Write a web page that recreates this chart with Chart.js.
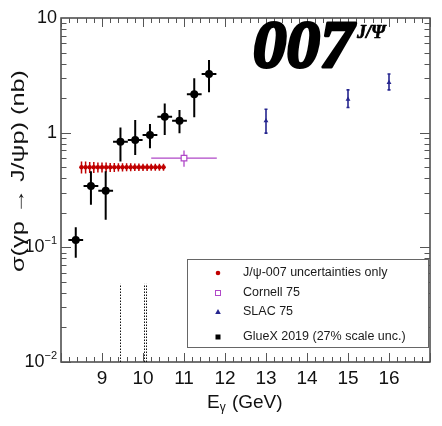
<!DOCTYPE html>
<html><head><meta charset="utf-8">
<script src="https://cdn.jsdelivr.net/npm/chart.js@4.4.1/dist/chart.umd.min.js"></script>
<style>html,body{margin:0;padding:0;background:#fff}#wrap{width:442px;height:426px;position:relative}</style>
</head><body><div id="wrap"><canvas id="c" width="442" height="426"></canvas></div>
<script>
// ---- data ----
const glueE = [8.36, 8.73, 9.09, 9.45, 9.81, 10.17, 10.53, 10.89, 11.25, 11.61];
const glueSigma = [0.116, 0.343, 0.312, 0.834, 0.863, 0.955, 1.38, 1.27, 2.16, 3.25];
const glueHi = [0.150, 0.46, 0.46, 1.11, 1.29, 1.19, 1.80, 1.58, 2.98, 4.31];
const glueLo = [0.081, 0.235, 0.174, 0.56, 0.64, 0.73, 0.955, 0.99, 1.36, 2.25];
const glueEHalf = [0.18, 0.18, 0.18, 0.18, 0.18, 0.18, 0.18, 0.18, 0.18, 0.18];

const slacE = [13, 15, 16];
const slacSigma = [1.27, 1.95, 2.73];
const slacHi = [1.60, 2.36, 3.25];
const slacLo = [0.99, 1.66, 2.36];

const cornellE = [11.0];
const cornellSigma = [0.6];
const cornellHi = [0.70];
const cornellLo = [0.505];
const cornellELo = [10.2];
const cornellEHi = [11.8];

const j007E = [8.5, 8.6, 8.7, 8.8, 8.9, 9.0, 9.1, 9.2, 9.3, 9.4, 9.5, 9.6, 9.7, 9.8, 9.9, 10.0, 10.1, 10.2, 10.3, 10.4, 10.5];
const j007Sigma = [0.5, 0.5, 0.5, 0.5, 0.5, 0.5, 0.5, 0.5, 0.5, 0.5, 0.5, 0.5, 0.5, 0.5, 0.5, 0.5, 0.5, 0.5, 0.5, 0.5, 0.5];
const j007Err = [0.06, 0.06, 0.055, 0.055, 0.05, 0.05, 0.048, 0.045, 0.045, 0.042, 0.042, 0.04, 0.04, 0.038, 0.038, 0.036, 0.036, 0.035, 0.035, 0.035, 0.035];
const j007EHalf = 0.05;

const pcLines = [9.43, 10.02, 10.08];   // dotted vertical markers
const pcLineTop = 0.048;

const xTickValues = [9, 10, 11, 12, 13, 14, 15, 16];
const yTickValues = [0.01, 0.1, 1, 10];
const yTickBase = ['10', '10', '1', '10'];
const yTickExp = ['\u22122', '\u22121', '', ''];

const yTitle = '\u03C3(\u03B3p \u2192 J/\u03C8p) (nb)';
const legendLabels = ['J/\u03C8-007 uncertainties only', 'Cornell 75', 'SLAC 75', 'GlueX 2019 (27% scale unc.)'];

const C_GLUE = '#000000', C_RED = '#c00000', C_CORN = '#b048c8', C_SLAC = '#26268f';
const FONT = "'Liberation Sans', Arial, sans-serif";

const pts = (xs, ys) => xs.map((x, i) => ({x: x, y: ys[i]}));

const errPlugin = {
  id: 'errbars',
  beforeDatasetsDraw(chart) {
    const {ctx, scales: {x, y}, chartArea: a} = chart;
    ctx.save();
    // frame
    ctx.strokeStyle = '#444'; ctx.lineWidth = 1.5;
    ctx.strokeRect(a.left, a.top, a.right - a.left, a.bottom - a.top);
    // ticks (inward)
    ctx.lineWidth = 1; ctx.strokeStyle = '#555';
    ctx.beginPath();
    for (let k = 0; k <= 45; k++) {
      const v = 8 + k * 0.2;
      if (v > 17.0001) break;
      const px = Math.round(x.getPixelForValue(v)) + 0.5;
      const major = (k % 5 === 0);
      const L = major ? 9 : 5;
      ctx.moveTo(px, a.bottom); ctx.lineTo(px, a.bottom - L);
      ctx.moveTo(px, a.top); ctx.lineTo(px, a.top + L);
    }
    for (let d = -2; d < 1; d++) {
      for (let m = 1; m <= 9; m++) {
        const v = m * Math.pow(10, d);
        const py = Math.round(y.getPixelForValue(v)) + 0.5;
        const L = (m === 1) ? 10 : 5.5;
        ctx.moveTo(a.left, py); ctx.lineTo(a.left + L, py);
        ctx.moveTo(a.right, py); ctx.lineTo(a.right - L, py);
      }
    }
    ctx.stroke();
    // dotted vertical lines
    ctx.strokeStyle = '#111'; ctx.lineWidth = 1; ctx.setLineDash([1.5, 1.5]);
    pcLines.forEach(v => {
      const px = Math.round(x.getPixelForValue(v)) + 0.5;
      ctx.beginPath(); ctx.moveTo(px, y.getPixelForValue(0.01)); ctx.lineTo(px, y.getPixelForValue(pcLineTop)); ctx.stroke();
    });
    ctx.setLineDash([]);
    const seg = (x1, y1, x2, y2) => { ctx.moveTo(x1, y1); ctx.lineTo(x2, y2); };
    // J/psi-007
    ctx.strokeStyle = C_RED; ctx.lineWidth = 1.5; ctx.beginPath();
    j007E.forEach((e, i) => {
      const px = x.getPixelForValue(e), py = y.getPixelForValue(j007Sigma[i]);
      seg(x.getPixelForValue(e - j007EHalf), py, x.getPixelForValue(e + j007EHalf), py);
      seg(px, y.getPixelForValue(j007Sigma[i] + j007Err[i]), px, y.getPixelForValue(j007Sigma[i] - j007Err[i]));
    });
    ctx.stroke();
    // Cornell
    ctx.strokeStyle = C_CORN; ctx.lineWidth = 1.3; ctx.beginPath();
    cornellE.forEach((e, i) => {
      const px = x.getPixelForValue(e), py = y.getPixelForValue(cornellSigma[i]);
      seg(x.getPixelForValue(cornellELo[i]), py, x.getPixelForValue(cornellEHi[i]), py);
      seg(px, y.getPixelForValue(cornellHi[i]), px, y.getPixelForValue(cornellLo[i]));
    });
    ctx.stroke();
    // SLAC
    ctx.strokeStyle = C_SLAC; ctx.lineWidth = 1.6; ctx.beginPath();
    slacE.forEach((e, i) => {
      const px = x.getPixelForValue(e);
      const yh = y.getPixelForValue(slacHi[i]), yl = y.getPixelForValue(slacLo[i]);
      seg(px, yh, px, yl);
      seg(px - 1.5, yh, px + 1.5, yh);
      seg(px - 1.5, yl, px + 1.5, yl);
    });
    ctx.stroke();
    // GlueX
    ctx.strokeStyle = C_GLUE; ctx.lineWidth = 2; ctx.beginPath();
    glueE.forEach((e, i) => {
      const px = x.getPixelForValue(e), py = y.getPixelForValue(glueSigma[i]);
      seg(x.getPixelForValue(e - glueEHalf[i]), py, x.getPixelForValue(e + glueEHalf[i]), py);
      seg(px, y.getPixelForValue(glueHi[i]), px, y.getPixelForValue(glueLo[i]));
    });
    ctx.stroke();
    ctx.restore();
  },
  afterDraw(chart) {
    const {ctx, chartArea: a, scales: {y}} = chart;
    ctx.save();
    // y tick labels (with real superscripts)
    ctx.fillStyle = '#111'; ctx.textBaseline = 'middle'; ctx.textAlign = 'right';
    yTickValues.forEach((v, i) => {
      const py = y.getPixelForValue(v);
      let rx = a.left - 4;
      if (yTickExp[i]) {
        ctx.font = '11px ' + FONT;
        ctx.fillText(yTickExp[i], rx, py - 6);
        rx -= ctx.measureText(yTickExp[i]).width;
      }
      ctx.font = '18px ' + FONT;
      ctx.fillText(yTickBase[i], rx, py);
    });
    // y axis title (rotated)
    ctx.save();
    ctx.translate(19, 171); ctx.rotate(-Math.PI / 2);
    ctx.font = '18px ' + FONT; ctx.textAlign = 'center'; ctx.textBaseline = 'middle';
    const w = ctx.measureText(yTitle).width;
    ctx.scale(202 / w, 1);
    ctx.fillText(yTitle, 0, 0);
    ctx.restore();
    // legend box
    const bx = 187, by = 259, bw = 241, bh = 88;
    ctx.fillStyle = '#fff'; ctx.fillRect(bx, by, bw, bh);
    ctx.strokeStyle = '#666'; ctx.lineWidth = 1; ctx.strokeRect(bx + 0.5, by + 0.5, bw, bh);
    const rows = [273, 293, 312, 337];
    const mx = 218;
    ctx.fillStyle = C_RED; ctx.beginPath(); ctx.arc(mx, rows[0], 2.3, 0, Math.PI * 2); ctx.fill();
    ctx.strokeStyle = C_CORN; ctx.lineWidth = 1; ctx.strokeRect(mx - 2.5, rows[1] - 2.5, 5, 5);
    ctx.fillStyle = C_SLAC; ctx.beginPath(); ctx.moveTo(mx, rows[2] - 3); ctx.lineTo(mx + 2.8, rows[2] + 2); ctx.lineTo(mx - 2.8, rows[2] + 2); ctx.closePath(); ctx.fill();
    ctx.fillStyle = '#000'; ctx.fillRect(mx - 2.5, rows[3] - 2.5, 5, 5);
    ctx.fillStyle = '#1a1a1a'; ctx.font = '12.5px ' + FONT; ctx.textBaseline = 'middle'; ctx.textAlign = 'left';
    legendLabels.forEach((t, i) => ctx.fillText(t, 243, rows[i]));
    // x-axis title with subscript gamma
    ctx.fillStyle = '#111'; ctx.textBaseline = 'alphabetic';
    ctx.font = '19px ' + FONT;
    let tx = 207, ty = 408;
    ctx.fillText('E', tx, ty); tx += ctx.measureText('E').width;
    ctx.font = '12px ' + FONT; ctx.fillText('\u03B3', tx, ty + 3); tx += ctx.measureText('\u03B3').width + 1;
    ctx.font = '19px ' + FONT; ctx.fillText(' (GeV)', tx, ty);
    // 007 logo
    ctx.fillStyle = '#000'; ctx.strokeStyle = '#000'; ctx.lineWidth = 3; ctx.lineJoin = 'round';
    ctx.font = "italic bold 67px 'Liberation Serif', serif";
    ctx.fillText('007', 253, 67); ctx.strokeText('007', 253, 67);
    ctx.lineWidth = 0.7;
    ctx.font = "italic bold 18px 'Liberation Serif', serif";
    ctx.fillText('J/\u03A8', 357, 38); ctx.strokeText('J/\u03A8', 357, 38);
    ctx.restore();
  }
};

new Chart(document.getElementById('c'), {
  type: 'scatter',
  data: {
    datasets: [
      {label: legendLabels[0], data: pts(j007E, j007Sigma), pointStyle: 'circle', pointRadius: 2.2, backgroundColor: C_RED, borderColor: C_RED, borderWidth: 0},
      {label: legendLabels[1], data: pts(cornellE, cornellSigma), pointStyle: 'rect', pointRadius: 4, backgroundColor: '#fff', borderColor: C_CORN, borderWidth: 1.2},
      {label: legendLabels[2], data: pts(slacE, slacSigma), pointStyle: 'triangle', pointRadius: 2.8, backgroundColor: C_SLAC, borderColor: C_SLAC, borderWidth: 0},
      {label: legendLabels[3], data: pts(glueE, glueSigma), pointStyle: 'circle', pointRadius: 4, backgroundColor: C_GLUE, borderColor: C_GLUE, borderWidth: 0}
    ]
  },
  options: {
    responsive: false, animation: false, devicePixelRatio: 1,
    layout: {padding: {left: 0, top: 18, right: 12, bottom: 0}},
    plugins: {legend: {display: false}, tooltip: {enabled: false}},
    scales: {
      x: {
        type: 'linear', min: 8, max: 17,
        grid: {display: false, drawTicks: false}, border: {display: false},
        afterBuildTicks: s => { s.ticks = xTickValues.map(v => ({value: v})); },
        afterFit: s => { s.height = 64; },
        ticks: {padding: 5, color: '#111', maxRotation: 0, autoSkip: false, font: {family: FONT, size: 19}, callback: v => String(v)}
      },
      y: {
        type: 'logarithmic', min: 0.01, max: 10,
        grid: {display: false, drawTicks: false}, border: {display: false},
        afterBuildTicks: s => { s.ticks = yTickValues.map(v => ({value: v})); },
        afterFit: s => { s.width = 61; },
        ticks: {display: false}
      }
    }
  },
  plugins: [errPlugin]
});
</script>
</body></html>
